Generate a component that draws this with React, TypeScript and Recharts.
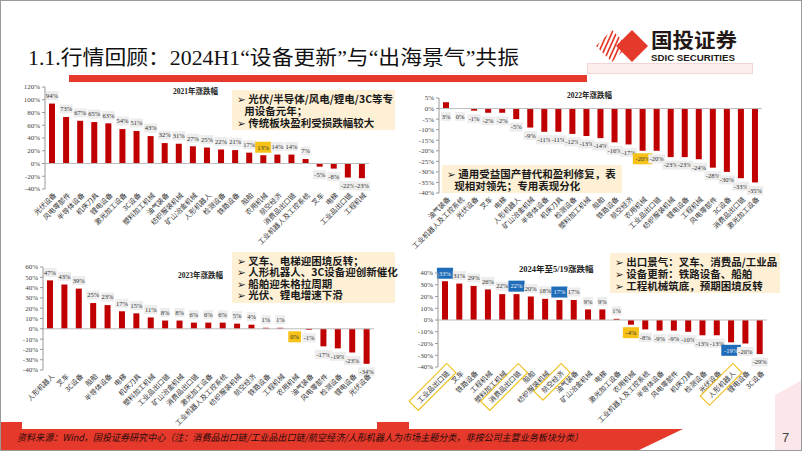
import { Bar, BarChart, ReferenceLine, XAxis, YAxis } from 'recharts';

const CATS_2021 = ['光伏设备', '风电零部件', '半导体设备', '机床刀具', '锂电设备', '激光加工设备', '3C设备', '塑料加工机械', '油气装备', '纺织服装机械', '矿山冶金机械', '人形机器人', '检测设备', '铁路设备', '船舶', '农用机械', '航空经济', '消费品出口链', '工业机器人及工控系统', '叉车', '电梯', '工业品出口链', '工程机械'];
const VALS_2021 = [94, 73, 67, 65, 63, 54, 51, 43, 32, 31, 27, 25, 22, 21, 17, 13, 14, 14, 7, -5, -8, -22, -23];

const CATS_2022 = ['油气装备', '工业机器人及工控系统', '光伏设备', '叉车', '电梯', '人形机器人', '矿山冶金机械', '半导体设备', '机床刀具', '检测设备', '塑料加工机械', '船舶', '铁路设备', '航空经济', '农用机械', '工业品出口链', '纺织服装机械', '锂电设备', '工程机械', '风电零部件', '3C设备', '消费品出口链', '激光加工设备'];
const VALS_2022 = [3, 0, -1, -2, -2, -5, -9, -11, -11, -12, -13, -14, -16, -17, -20, -20, -23, -23, -24, -28, -30, -33, -35];

const CATS_2023 = ['人形机器人', '叉车', '3C设备', '船舶', '半导体设备', '电梯', '机床刀具', '塑料加工机械', '工业品出口链', '矿山冶金机械', '消费品出口链', '激光加工设备', '工业机器人及工控系统', '纺织服装机械', '航空经济', '铁路设备', '工程机械', '农用机械', '油气装备', '风电零部件', '检测设备', '锂电设备', '光伏设备'];
const VALS_2023 = [47, 43, 39, 25, 23, 17, 15, 11, 8, 8, 6, 6, 6, 5, 4, 1, 1, 0, -1, -17, -19, -23, -34];

const CATS_2024 = ['工业品出口链', '叉车', '铁路设备', '工程机械', '塑料加工机械', '消费品出口链', '船舶', '纺织服装机械', '航空经济', '油气装备', '矿山冶金机械', '电梯', '激光加工设备', '农用机械', '工业机器人及工控系统', '半导体设备', '风电零部件', '机床刀具', '检测设备', '光伏设备', '人形机器人', '锂电设备', '3C设备'];
const VALS_2024 = [33, 31, 29, 26, 22, 22, 20, 18, 17, 17, 9, 9, 1, -4, -8, -9, -9, -10, -13, -13, -19, -20, -29];

const TICKS_2021 = [-40, -20, 0, 20, 40, 60, 80, 100, 120];
const TICKS_2022 = [-40, -35, -30, -25, -20, -15, -10, -5, 0, 5];
const TICKS_2023 = [-40, -30, -20, -10, 0, 10, 20, 30, 40, 50, 60];
const TICKS_2024 = [-40, -30, -20, -10, 0, 10, 20, 30, 40];

const YELLOW_CATS = ['农用机械'];
const THEME_CATS = ['工业品出口链', '消费品出口链', '航空经济', '人形机器人'];

const RED = '#c00000';
const SERIF = '"Liberation Serif", "Noto Sans CJK SC", serif';
const CJK = '"Noto Sans CJK SC", "DejaVu Sans", sans-serif';

// bar + its value tag drawn together so the tag always belongs to its own bar
function makeBarShape(below: boolean, blue: string[]) {
    return (p: any) => {
        const { x, y, width, height, payload } = p;
        const v: number = payload.v;
        const cat: string = payload.name;
        const top = Math.min(y, y + height);
        const bot = Math.max(y, y + height);
        const cx = x + width / 2;
        const up = v > 0 && !below;
        const cy = up ? top - 8 : bot + 8;
        const txt = `${v}%`;
        const isBlue = blue.includes(cat);
        const isYellow = YELLOW_CATS.includes(cat);
        const hl = isBlue || isYellow;
        const w = txt.length * 3.4 + (hl ? 6 : 3);
        const h = hl ? 11 : 9;
        const fill = isBlue ? '#1f6cb8' : isYellow ? '#f6c218' : '#ededed';
        return (
            <g>
                <rect x={x} y={top} width={width} height={bot - top} fill={RED} />
                <rect x={cx - w / 2} y={cy - h / 2} width={w} height={h} fill={fill} />
                <text x={cx} y={cy} dy={2.3} textAnchor="middle" fontSize={6.5} fontFamily={SERIF} fill={isBlue ? '#eef4fb' : '#333'}>
                    {txt}
                </text>
            </g>
        );
    };
}

function makeCatTick(boxed: string[]) {
    return (p: any) => {
        const { x, y, payload } = p;
        const t = String(payload.value);
        const isBox = boxed.includes(t);
        const w = t.length * 7.2 + 6;
        return (
            <g transform={`translate(${x + 3},${y + 2}) rotate(-45)`}>
                {isBox && <rect x={-w + 1} y={-7} width={w + 4} height={13} fill="none" stroke="#efc224" strokeWidth={1.2} />}
                <text x={0} y={0} dy={2.5} textAnchor="end" fontSize={7} fill="#333" fontFamily={CJK}>
                    {t}
                </text>
            </g>
        );
    };
}

interface PanelProps {
    cats: string[];
    vals: number[];
    ticks: number[];
    left: number;
    top: number;
    width: number;
    height: number;
    yWidth: number;
    mTop: number;
    mRight: number;
    xHeight: number;
    below?: boolean;
    blue?: string[];
    boxed?: string[];
}

function Panel({ cats, vals, ticks, left, top, width, height, yWidth, mTop, mRight, xHeight, below = false, blue = [], boxed = [] }: PanelProps) {
    const data = cats.map((name, i) => ({ name, v: vals[i] }));
    return (
        <div style={{ position: 'absolute', left, top }}>
            <BarChart width={width} height={height} data={data} margin={{ top: mTop, right: mRight, bottom: 0, left: 0 }}>
                <XAxis dataKey="name" interval={0} axisLine={false} tickLine={false} tickSize={0} tickMargin={3} height={xHeight} tick={makeCatTick(boxed)} />
                <YAxis
                    type="number"
                    domain={[ticks[0], ticks[ticks.length - 1]]}
                    ticks={ticks}
                    interval={0}
                    width={yWidth}
                    tickFormatter={(v: number) => `${v}%`}
                    tick={{ fontSize: 7, fill: '#444', fontFamily: SERIF }}
                    axisLine={{ stroke: '#999' }}
                    tickLine={{ stroke: '#999' }}
                    tickSize={3}
                />
                <ReferenceLine y={0} stroke="#bdbdbd" />
                <Bar dataKey="v" fill={RED} barSize={6} isAnimationActive={false} shape={makeBarShape(below, blue)} />
            </BarChart>
        </div>
    );
}

function Note({ left, top, width, height, lines, lineHeight }: { left: number; top: number; width: number; height: number; lines: string[]; lineHeight: number }) {
    return (
        <div
            style={{
                position: 'absolute',
                left,
                top,
                width,
                height,
                background: '#fdf0d5',
                boxSizing: 'border-box',
                paddingLeft: 5,
                paddingTop: 3,
                fontFamily: CJK,
                fontWeight: 700,
                fontSize: 10.5,
                lineHeight: `${lineHeight}px`,
                color: '#1a1a1a',
                whiteSpace: 'pre',
            }}
        >
            {lines.map((l, i) => (
                <div key={i}>{l}</div>
            ))}
        </div>
    );
}

export default function App() {
    return (
        <div style={{ position: 'absolute', left: 0, top: 0, width: 802, height: 451, background: '#fff', overflow: 'hidden' }}>
            <svg width={802} height={451} style={{ position: 'absolute', left: 0, top: 0 }}>
                <defs>
                    <clipPath id="stripes">
                        <polygon points="612,30 628,46 612,62 596,46" />
                    </clipPath>
                </defs>
                {/* header */}
                <text x={28} y={65} fontSize={20} fontFamily={SERIF} fill="#111" textLength={491} lengthAdjust="spacingAndGlyphs">
                    1.1.行情回顾：2024H1“设备更新”与“出海景气”共振
                </text>
                <rect x={69} y={75} width={518} height={7} fill="#e5392b" />
                <rect x={587.5} y={63.5} width={165} height={10} fill="#fdeeee" stroke="#f3d6d6" />
                <g clipPath="url(#stripes)">
                    {[0, 1, 2, 3, 4, 5, 6, 7].map((k) => (
                        <line key={k} x1={588 + k * 4.5} y1={66} x2={606 + k * 4.5} y2={26} stroke="#e5392b" strokeWidth={1.7} />
                    ))}
                </g>
                <polygon points="632,30 648,46 632,62 616,46" fill="#e5392b" />
                <text x={651} y={48} fontSize={20} fontWeight={700} fontFamily={CJK} fill="#231815" textLength={86} lengthAdjust="spacingAndGlyphs">
                    国投证券
                </text>
                <text x={651} y={61} fontSize={8.5} fontWeight={700} fontFamily='"Liberation Sans", sans-serif' fill="#231815" textLength={84} lengthAdjust="spacingAndGlyphs">
                    SDIC SECURITIES
                </text>
                {/* footer */}
                <polygon points="775,395 802,380 802,451 775,451" fill="#fbe7e9" />
                <polygon points="0,422 22,422 22,429 377,429 377,422 409,422 409,429 683,429 637,451 0,451" fill="#e5392b" />
                <text x={17} y={441} fontSize={9.5} fontStyle="italic" fontFamily={CJK} fill="#2a0a0a" textLength={566} lengthAdjust="spacingAndGlyphs">
                    资料来源：Wind，国投证券研究中心（注：消费品出口链/工业品出口链/航空经济/人形机器人为市场主题分类，非按公司主营业务板块分类）
                </text>
                <text x={782} y={442} fontSize={13} fontFamily='"Liberation Sans", sans-serif' fill="#444">
                    7
                </text>
                {/* chart titles */}
                <text x={173} y={94} fontSize={7.5} fontWeight={700} fontFamily={SERIF} fill="#222">2021年涨跌幅</text>
                <text x={567} y={98} fontSize={7.5} fontWeight={700} fontFamily={SERIF} fill="#222">2022年涨跌幅</text>
                <text x={178} y={278} fontSize={7.5} fontWeight={700} fontFamily={SERIF} fill="#222">2023年涨跌幅</text>
                <text x={519} y={272} fontSize={8.5} fontWeight={700} fontFamily={SERIF} fill="#222">2024年至5/19涨跌幅</text>
            </svg>

            <Panel cats={CATS_2021} vals={VALS_2021} ticks={TICKS_2021} left={0} top={80} width={380} height={172} yWidth={45} mTop={7} mRight={11} xHeight={63} />
            <Panel cats={CATS_2022} vals={VALS_2022} ticks={TICKS_2022} left={400} top={90} width={380} height={165} yWidth={39} mTop={8} mRight={18} xHeight={62} below />
            <Panel cats={CATS_2023} vals={VALS_2023} ticks={TICKS_2023} left={0} top={260} width={390} height={170} yWidth={43} mTop={7} mRight={16} xHeight={60} />
            <Panel cats={CATS_2024} vals={VALS_2024} ticks={TICKS_2024} left={400} top={265} width={380} height={164} yWidth={38} mTop={8} mRight={13} xHeight={62} blue={THEME_CATS} boxed={THEME_CATS} />

            <Note left={232} top={90} width={163} height={40} lineHeight={12} lines={['➢ 光伏/半导体/风电/锂电/3C等专', '   用设备元年；', '➢ 传统板块盈利受损跌幅较大']} />
            <Note left={442} top={165} width={180} height={28} lineHeight={12} lines={['➢ 通用受益国产替代和盈利修复，表', '   现相对领先；专用表现分化']} />
            <Note left={232} top={252} width={163} height={51} lineHeight={11.3} lines={['➢ 叉车、电梯迎困境反转；', '➢ 人形机器人、3C设备迎创新催化', '➢ 船舶迎朱格拉周期', '➢ 光伏、锂电增速下滑']} />
            <Note left={610} top={253} width={170} height={40} lineHeight={12} lines={['➢ 出口景气：叉车、消费品/工业品', '➢ 设备更新：铁路设备、船舶', '➢ 工程机械筑底，预期困境反转']} />

            <svg width={802} height={451} style={{ position: 'absolute', left: 0, top: 0, pointerEvents: 'none' }}>
                <rect x={0.5} y={0.5} width={801} height={450} fill="none" stroke="#9a9a9a" />
            </svg>
        </div>
    );
}
